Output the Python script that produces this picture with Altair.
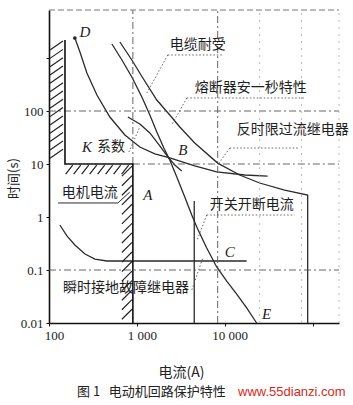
import altair as alt
import numpy as np
import pandas as pd

# ---- curves: current (A) / time (s) ----
d_I = [197, 225, 270, 351, 493, 731, 1081, 1602, 2371, 4560, 8110, 16870, 30800]
d_t = [2385, 1298, 521, 200, 77, 35.2, 20.9, 15.5, 13.0, 9.2, 7.1, 6.2, 5.9]

q_I = [641, 877, 1170, 1687, 2371, 3081, 4560, 8318, 14800, 25000, 48100, 88000, 88000]
q_t = [2004, 917, 420, 161, 84, 50, 25, 10.4, 6.2, 4.38, 3.23, 2.6, 0.01]

p_I = [520, 676, 877, 1140, 1406, 1687, 2028, 2371, 2849, 3511, 4217, 4808, 6241, 8110, 10540, 13690, 17780, 23100]
p_t = [1837, 917, 438, 184, 84, 40.2, 20.0, 11.9, 5.69, 2.38, 1.09, 0.647, 0.26, 0.114, 0.0619, 0.0352, 0.0192, 0.01]

k_I = [790, 1081, 1406, 1825, 2250, 2703, 3245]
k_t = [77, 56.9, 38.5, 21.9, 13.6, 9.57, 7.4]

m_I = [133, 160, 197, 257, 333, 456, 17780]
m_t = [0.706, 0.439, 0.297, 0.200, 0.161, 0.148, 0.148]

limit_I = [152, 152, 901, 901]
limit_t = [2188, 10, 10, 0.01]

switch_I = [4500, 4500]
switch_t = [2.0, 0.01]

# gridlines
hgrid_t = [100, 10, 0.1]
hgrid_I0 = [100, 901, 100]
vgrid_I = [901, 8318]
vgrid_t0 = [10, 0.01]
faint_I = [25000, 75000]

X_DOMAIN = [100, 200000]
Y_DOMAIN = [0.01, 8050]

# labels
cjk_text = ["电缆耐受", "熔断器安一秒特性", "反时限过流继电器", "系数", "电机电流", "开关开断电流", "瞬时接地故障继电器"]
cjk_I = [2371, 4560, 13690, 351, 140, 6761, 144]
cjk_t = [1758, 272, 43.8, 20.9, 2.84, 1.68, 0.0457]

let_text = ["D", "K", "B", "A", "C", "E"]
let_I = [257, 270, 3334, 1334, 11400, 30000]
let_t = [3097, 20.9, 18.4, 2.60, 0.219, 0.0148]

# dotted leaders / underlines (I1, t1) -> (I2, t2)
lead_I1 = [2250, 2250, 3700, 3700, 11400, 11400, 811, 6241, 6241, 4217]
lead_t1 = [1140, 1140, 176, 176, 20, 20, 16.8, 1.09, 1.09, 0.042]
lead_I2 = [9247, 1300, 81100, 2500, 71100, 8318, 1081, 62400, 4808, 5623]
lead_t2 = [1140, 219, 176, 54.5, 20, 9.57, 49.9, 1.09, 0.35, 0.168]

# solid leader for 电机电流
motor_lead_I = [127, 608, 832]
motor_lead_t = [1.84, 1.84, 2.96]

caption = "图 1\u00a0\u00a0\u00a0电动机回路保护特性"
watermark = "www.55dianzi.com"

CJK = "Noto Sans CJK SC"
SERIF = "Liberation Serif"
INK = "#2b2b2b"

xs = alt.Scale(type="log", domain=X_DOMAIN, nice=False)
ys = alt.Scale(type="log", domain=Y_DOMAIN, nice=False)

xaxis = alt.Axis(
    values=[100, 1000, 10000, 100000],
    labelExpr="datum.value == 100 ? '100' : datum.value == 1000 ? '1 000' : datum.value == 10000 ? '10 000' : ''",
    grid=False, domainColor="#111", domainWidth=1.6, tickColor="#111", tickSize=3,
    labelFont=SERIF, labelFontSize=13, labelColor="#222", labelPadding=3, labelOffset=5,
    labelFlush=False, labelOverlap=False,
    title="电流(A)", titleFont=CJK, titleFontSize=14, titleFontWeight="normal",
    titleColor="#222", titleX=132, titleY=49, titleAlign="center", titleBaseline="middle",
)
yaxis = alt.Axis(
    values=[0.01, 0.1, 1, 10, 100, 1000],
    labelExpr="datum.value >= 1000 ? '' : format(datum.value, '~g')",
    grid=False, domainColor="#111", domainWidth=1.6, tickColor="#111", tickSize=3,
    labelFont=SERIF, labelFontSize=13, labelColor="#222", labelPadding=3,
    labelOverlap=False, labelFlush=False,
    title="时间(s)", titleFont=CJK, titleFontSize=13, titleFontWeight="normal",
    titleColor="#222", titleX=-36, titleY=168, titleAlign="center", titleBaseline="middle",
    titleAngle=-90,
)


def X(field):
    return alt.X(field, type="quantitative", scale=xs, axis=xaxis)


def Y(field):
    return alt.Y(field, type="quantitative", scale=ys, axis=yaxis)


def curve_df(name, I, t):
    return pd.DataFrame({"curve": name, "idx": range(len(I)), "I": I, "t": t})


curves = pd.concat([
    curve_df("D", d_I, d_t),
    curve_df("Q", q_I, q_t),
    curve_df("P", p_I, p_t),
    curve_df("K", k_I, k_t),
    curve_df("M", m_I, m_t),
    curve_df("S", switch_I, switch_t),
], ignore_index=True)

limit_df = curve_df("L", limit_I, limit_t)
motor_lead_df = curve_df("ML", motor_lead_I, motor_lead_t)

base_curves = alt.Chart(curves).mark_line(color=INK, strokeWidth=1.3).encode(
    x=X("I"), y=Y("t"), detail="curve:N", order="idx:Q",
)

limit_line = alt.Chart(limit_df).mark_line(color="#111", strokeWidth=1.6).encode(
    x=X("I"), y=Y("t"), order="idx:Q",
)

motor_lead = alt.Chart(motor_lead_df).mark_line(color=INK, strokeWidth=1.0).encode(
    x=X("I"), y=Y("t"), order="idx:Q",
)


def rules(df, **style):
    return alt.Chart(df).mark_rule(**style).encode(
        x=X("I1"), x2="I2:Q", y=Y("t1"), y2="t2:Q",
    )


hgrid = pd.DataFrame({"I1": hgrid_I0, "I2": [X_DOMAIN[1]] * 3, "t1": hgrid_t, "t2": hgrid_t})
vgrid = pd.DataFrame({"I1": vgrid_I, "I2": vgrid_I, "t1": vgrid_t0, "t2": [Y_DOMAIN[1]] * 2})
grid_df = pd.concat([hgrid, vgrid], ignore_index=True)
faint_df = pd.DataFrame({"I1": faint_I + [X_DOMAIN[1]], "I2": faint_I + [X_DOMAIN[1]],
                         "t1": [Y_DOMAIN[0]] * 3, "t2": [Y_DOMAIN[1]] * 3})
top_df = pd.DataFrame({"I1": [X_DOMAIN[0]], "I2": [X_DOMAIN[1]], "t1": [Y_DOMAIN[1]], "t2": [Y_DOMAIN[1]]})
lead_df = pd.DataFrame({"I1": lead_I1, "I2": lead_I2, "t1": lead_t1, "t2": lead_t2})

# hatching along the forbidden-region boundary (log-decade offsets from the boundary values)
segs = []
lb = np.log10(limit_I[0])
for k in range(14):
    top = 3.32 - k * 0.157
    segs.append((10 ** (lb - 0.17), 10 ** (lb - 0.023), 10 ** (top - 0.17), 10 ** top))
for k in range(8):
    left = 2.19 + k * 0.091
    segs.append((10 ** left, 10 ** (left + 0.08), 10 ** (1 - 0.19), 10 ** (1 - 0.02)))
rb = np.log10(limit_I[2])
for k in range(16):
    top = 0.96 - k * 0.18
    segs.append((10 ** (rb - 0.125), 10 ** (rb - 0.01), 10 ** (top - 0.19), 10 ** top))
hatch_df = pd.DataFrame(segs, columns=["I1", "I2", "t1", "t2"])

grid_layer = rules(grid_df, color="#555", strokeWidth=0.9, strokeDash=[7, 3, 2, 3])
faint_layer = rules(faint_df, color="#aaa", strokeWidth=0.8, strokeDash=[2, 5])
top_layer = rules(top_df, color="#666", strokeWidth=0.9, strokeDash=[6, 3])
lead_layer = rules(lead_df, color="#555", strokeWidth=0.9, strokeDash=[1.5, 2])
hatch_layer = rules(hatch_df, color="#222", strokeWidth=1.2)

d_dot = alt.Chart(pd.DataFrame({"I": d_I[:1], "t": d_t[:1]})).mark_point(
    filled=True, color=INK, size=14, opacity=1).encode(x=X("I"), y=Y("t"))

cjk_layer = alt.Chart(pd.DataFrame({"I": cjk_I, "t": cjk_t, "text": cjk_text})).mark_text(
    align="left", baseline="middle", font=CJK, fontSize=14, color="#1e1e1e").encode(
    x=X("I"), y=Y("t"), text="text:N")

let_layer = alt.Chart(pd.DataFrame({"I": let_I, "t": let_t, "text": let_text})).mark_text(
    align="center", baseline="middle", font=SERIF, fontSize=15, fontStyle="italic",
    color="#1e1e1e").encode(x=X("I"), y=Y("t"), text="text:N")

cap_layer = alt.Chart(pd.DataFrame({"text": [caption]})).mark_text(
    align="left", baseline="middle", font=CJK, fontSize=13, color="#222").encode(
    x=alt.value(28), y=alt.value(382), text="text:N")

wm_layer = alt.Chart(pd.DataFrame({"text": [watermark]})).mark_text(
    align="left", baseline="middle", font="Liberation Sans", fontSize=13, color="#d8281e").encode(
    x=alt.value(189), y=alt.value(382), text="text:N")

chart = alt.layer(
    base_curves, grid_layer, faint_layer, top_layer, hatch_layer, limit_line,
    lead_layer, motor_lead, d_dot, cjk_layer, let_layer, cap_layer, wm_layer,
).properties(
    width=290, height=313,
    autosize=alt.AutoSizeParams(type="none"),
    padding={"left": 49, "top": 10, "right": 14, "bottom": 82},
    background="white",
).configure_view(stroke=None)

chart.save("out.html", embed_options={"renderer": "svg", "actions": False})
